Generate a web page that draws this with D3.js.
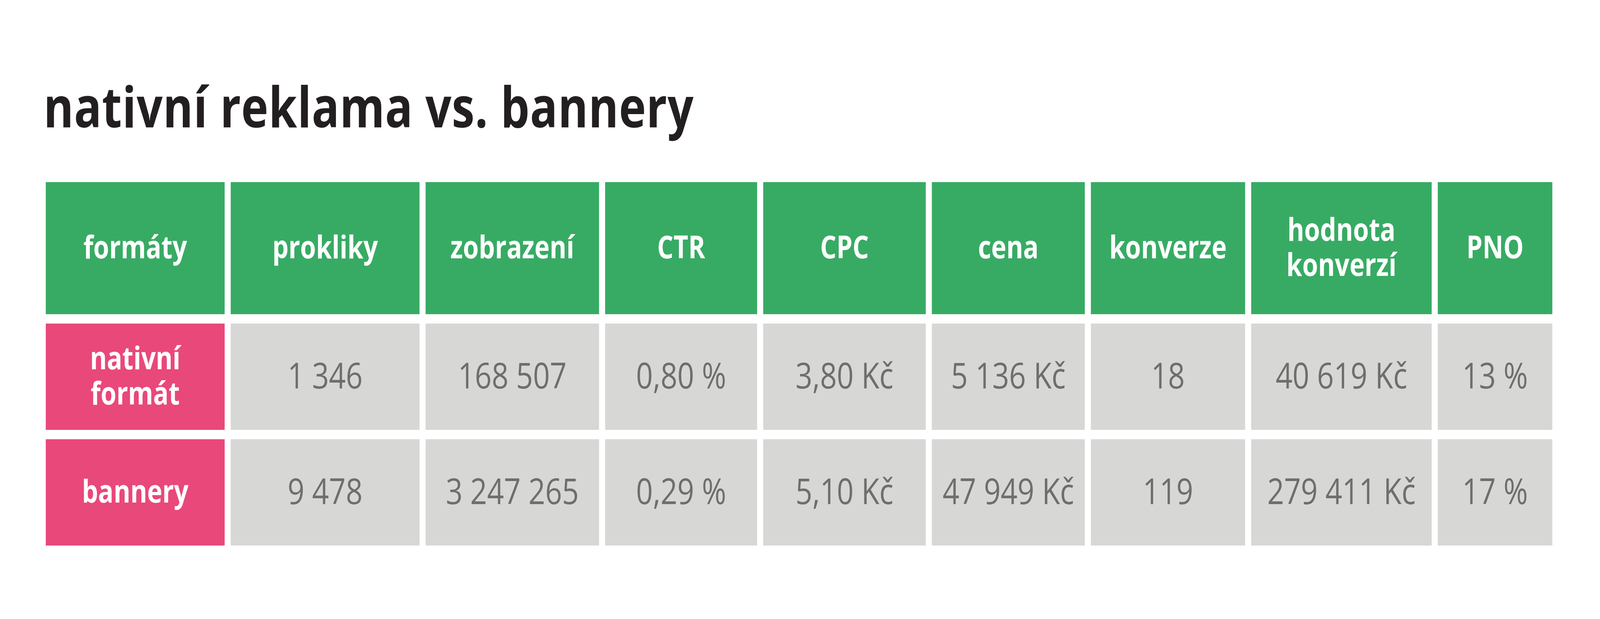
<!DOCTYPE html>
<head>
    <meta charset="utf-8">
    <title>nativní reklama vs. bannery</title>
    <script type="text/javascript" src="https://d3js.org/d3.v7.min.js"></script>
    <style>
        html, body { margin: 0; padding: 0; background: #ffffff; overflow: hidden; }
        svg { display: block; width: 100vw; height: 100vh; }
        text { font-family: "Open Sans", "Noto Sans", sans-serif; }
    </style>
</head>
<body>
<div id="container"></div>
<script>
    //---------------------------DATA---------------------------------//
    const title = "nativní reklama vs. bannery";
    const headers = ["formáty", "prokliky", "zobrazení", "CTR", "CPC", "cena", "konverze", "hodnota\nkonverzí", "PNO"];
    const formats = ["nativní\nformát", "bannery"];

    const prokliky  = [1346, 9478];
    const zobrazeni = [168507, 3247265];
    const ctr       = [0.80, 0.29];
    const cpc       = [3.80, 5.10];
    const cena      = [5136, 47949];
    const konverze  = [18, 119];
    const hodnota   = [40619, 279411];
    const pno       = [13, 17];

    //--------------------------FORMAT--------------------------------//
    const cz = d3.formatLocale({decimal: ",", thousands: " ", grouping: [3], currency: ["", " Kč"]});
    const fmtInt = cz.format(",d");
    const fmtPct = v => cz.format(".2f")(v) + " %";
    const fmtKc2 = v => cz.format(".2f")(v) + " Kč";
    const fmtKc  = v => cz.format(",d")(v) + " Kč";
    const fmtPno = v => cz.format("d")(v) + " %";

    const columns = [
        {values: prokliky,  fmt: fmtInt},
        {values: zobrazeni, fmt: fmtInt},
        {values: ctr,       fmt: fmtPct},
        {values: cpc,       fmt: fmtKc2},
        {values: cena,      fmt: fmtKc},
        {values: konverze,  fmt: fmtInt},
        {values: hodnota,   fmt: fmtKc},
        {values: pno,       fmt: fmtPno}
    ];

    //--------------------------LAYOUT--------------------------------//
    const width = 5000, height = 1584;
    const colWidths = [559, 590, 542, 475, 508, 478, 482, 564, 358];
    const rowHeights = [338, 272, 272];
    const colGap = 19, rowGap = 24;
    const tableLeft = 143, tableTop = 466;

    const colX = colWidths.map((w, i) => tableLeft + d3.sum(colWidths.slice(0, i)) + i * colGap);
    const rowY = rowHeights.map((h, i) => tableTop + d3.sum(rowHeights.slice(0, i)) + i * rowGap);
    const x = d3.scaleOrdinal().domain(d3.range(colWidths.length)).range(colX);
    const y = d3.scaleOrdinal().domain(d3.range(rowHeights.length)).range(rowY);

    const green = "#37ab63", pink = "#e9487a", grey = "#d7d7d5";

    // viewBox keeps the 5000x1584 drawing whatever the css viewport is
    const svg = d3.select("div#container").append("svg")
        .attr("viewBox", `0 0 ${width} ${height}`)
        .attr("preserveAspectRatio", "none");

    svg.append("rect").attr("width", width).attr("height", height).attr("fill", "#fff");

    //--------------------------TITLE---------------------------------//
    svg.append("text")
        .attr("x", 136)
        .attr("y", 326)
        .attr("fill", "#231f20")
        .style("font-size", "143px")
        .style("font-weight", 700)
        .style("letter-spacing", "1.2px")
        .text(title);

    //--------------------------CELLS---------------------------------//
    const cells = [];
    headers.forEach((h, c) => cells.push({r: 0, c: c, text: h, fill: green, kind: "head"}));
    formats.forEach((f, r) => {
        cells.push({r: r + 1, c: 0, text: f, fill: pink, kind: "head"});
        columns.forEach((col, c) => cells.push({r: r + 1, c: c + 1, text: col.fmt(col.values[r]), fill: grey, kind: "value"}));
    });

    const g = svg.selectAll("g.cell")
        .data(cells)
        .enter()
        .append("g")
        .attr("class", "cell")
        .attr("transform", d => `translate(${x(d.c)},${y(d.r)})`);

    g.append("rect")
        .attr("width", d => colWidths[d.c])
        .attr("height", d => rowHeights[d.r])
        .attr("fill", d => d.fill);

    // each line is its own text so that two-line labels stay apart
    g.each(function(d) {
        const lines = d.text.split("\n");
        const fs = d.kind === "head" ? 80 : 92;
        const lh = 90;
        const cx = colWidths[d.c] / 2;
        const cy = rowHeights[d.r] / 2 + (d.kind === "head" ? 26 : 30);
        lines.forEach((ln, i) => {
            d3.select(this).append("text")
                .attr("x", cx)
                .attr("y", cy + (i - (lines.length - 1) / 2) * lh)
                .attr("text-anchor", "middle")
                .attr("fill", d.kind === "head" ? "#ffffff" : "#6e6e6d")
                .style("font-size", fs + "px")
                .style("font-weight", d.kind === "head" ? 700 : 400)
                .text(ln);
        });
    });
</script>
</body>
